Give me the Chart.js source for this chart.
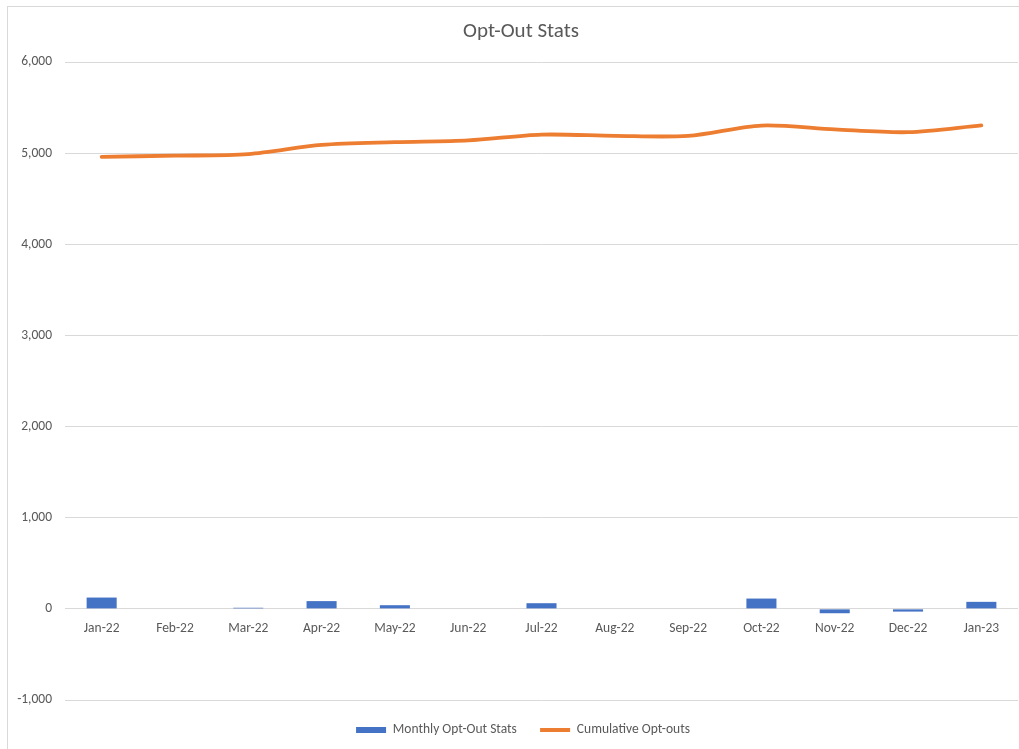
<!DOCTYPE html>
<html>
<head>
<meta charset="utf-8">
<script src="https://cdn.jsdelivr.net/npm/chart.js@4/dist/chart.umd.min.js"></script>
<style>
  html, body { margin: 0; padding: 0; background: #ffffff; overflow: hidden; }
  #wrap { position: absolute; left: 0; top: 0; width: 1019px; height: 749px; }
  #frame { position: absolute; left: 7px; top: 6px; width: 1100px; height: 800px; border: 1px solid #d9d9d9; pointer-events: none; }
  canvas { position: absolute; left: 0; top: 0; }
</style>
</head>
<body>
<div id="wrap">
  <div id="frame"></div>
  <canvas id="c" width="1019" height="749"></canvas>
</div>
<script>
const months = ['Jan-22','Feb-22','Mar-22','Apr-22','May-22','Jun-22','Jul-22','Aug-22','Sep-22','Oct-22','Nov-22','Dec-22','Jan-23'];
const monthlyOptOuts = [124, 0, 12, 85, 40, 0, 62, 0, 0, 113, -48, -30, 77];
const cumulativeOptOuts = [4960, 4972, 4989, 5090, 5120, 5139, 5203, 5190, 5190, 5303, 5260, 5230, 5305];
const seriesNames = ['Monthly Opt-Out Stats', 'Cumulative Opt-outs'];
const chartTitle = 'Opt-Out Stats';
const yMin = -1000, yMax = 6000, yStep = 1000;

const FONT = "Calibri, Carlito, Lato, sans-serif";
const TEXT = '#595959';
const BLUE = '#4472C4';
const ORANGE = '#ED7D31';
const FS = 13.5;

const boxShift = {
  id: 'boxShift',
  afterLayout(chart) {
    const lg = chart.legend;
    if (lg) { lg.left += 14; lg.right += 14; }
    const tt = chart.titleBlock;
    if (tt) { tt.left += 12; tt.right += 12; }
  }
};

new Chart(document.getElementById('c'), {
  data: {
    labels: months,
    datasets: [
      {
        type: 'bar',
        label: seriesNames[0],
        data: monthlyOptOuts,
        backgroundColor: BLUE,
        borderWidth: 0,
        categoryPercentage: 1.0,
        barPercentage: 0.41
      },
      {
        type: 'line',
        label: seriesNames[1],
        data: cumulativeOptOuts,
        borderColor: ORANGE,
        backgroundColor: ORANGE,
        borderWidth: 3.8,
        pointRadius: 0,
        tension: 0.3,
        borderCapStyle: 'round',
        fill: false
      }
    ]
  },
  plugins: [boxShift],
  options: {
    responsive: false,
    animation: false,
    devicePixelRatio: 1,
    layout: { padding: { left: 0, right: 1, top: 0, bottom: 2.25 } },
    plugins: {
      title: {
        display: true,
        text: chartTitle,
        color: TEXT,
        font: { family: FONT, size: 21, weight: 'normal' },
        padding: { top: 19.4, bottom: 17.4 }
      },
      legend: {
        display: true,
        position: 'bottom',
        labels: {
          color: TEXT,
          font: { family: FONT, size: FS },
          usePointStyle: true,
          pointStyleWidth: 30,
          boxHeight: 6,
          padding: 23.25,
          generateLabels: (chart) => chart.data.datasets.map((ds, i) => ({
            text: ds.label,
            fillStyle: ds.type === 'bar' ? BLUE : ORANGE,
            strokeStyle: ds.type === 'bar' ? BLUE : ORANGE,
            lineWidth: ds.type === 'bar' ? 0 : 3.8,
            pointStyle: ds.type === 'bar' ? 'rect' : 'line',
            fontColor: TEXT,
            hidden: false,
            datasetIndex: i
          }))
        }
      },
      tooltip: { enabled: false }
    },
    scales: {
      x: {
        position: { y: 0 },
        grid: { display: false, drawTicks: false },
        border: { display: false },
        ticks: {
          color: TEXT,
          font: { family: FONT, size: FS },
          padding: 12,
          maxRotation: 0,
          autoSkip: false
        },
        afterFit: (s) => { s.height = 0; }
      },
      y: {
        min: yMin,
        max: yMax,
        grid: { color: '#D9D9D9', lineWidth: 1, drawTicks: false },
        border: { display: false },
        ticks: {
          stepSize: yStep,
          color: TEXT,
          font: { family: FONT, size: FS },
          padding: 13,
          callback: (v) => v.toLocaleString('en-US')
        },
        afterFit: (s) => { s.width = 65; }
      }
    }
  }
});
</script>
</body>
</html>
